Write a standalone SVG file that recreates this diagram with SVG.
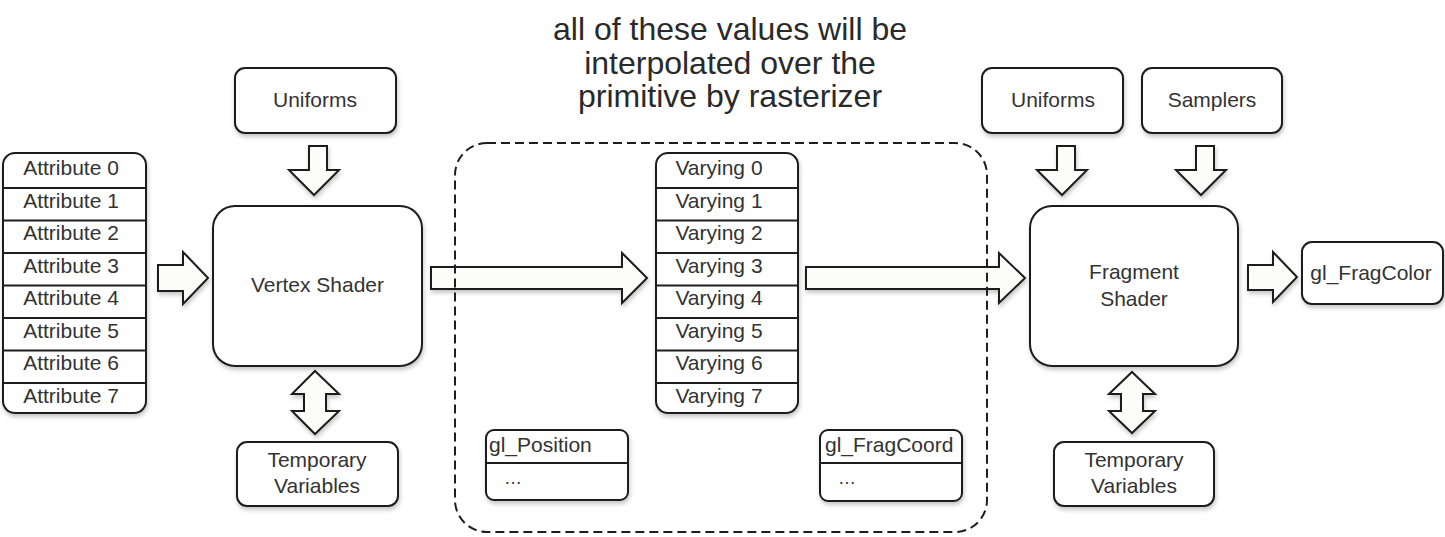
<svg xmlns="http://www.w3.org/2000/svg" width="1445" height="537" viewBox="0 0 1445 537">
<defs>
<filter id="sh" x="-10%" y="-10%" width="130%" height="140%">
<feDropShadow dx="1" dy="3" stdDeviation="2" flood-color="#000" flood-opacity="0.22"/>
</filter>
<style>
.box{fill:#fff;stroke:#1e1e1e;stroke-width:2;filter:url(#sh)}
.ln{stroke:#1e1e1e;stroke-width:2}
.arr{fill:#fcfcf8;stroke:#1e1e1e;stroke-width:2;stroke-linejoin:miter;filter:url(#sh)}
.dash{fill:none;stroke:#1e1e1e;stroke-width:2;stroke-dasharray:9 5}
text{font-family:"Liberation Sans",Arial,sans-serif;font-size:21px;fill:#333}
.c{text-anchor:middle}
.title{font-size:32px;fill:#2a2a2a;text-anchor:middle}
</style>
</defs>
<rect width="1445" height="537" fill="#fff"/>

<g id="title">
<text class="title" x="730" y="40">all of these values will be</text>
<text class="title" x="730" y="74">interpolated over the</text>
<text class="title" x="730" y="107">primitive by rasterizer</text>
</g>

<g id="connectors">
<polygon class="arr" points="158,265 183,265 183,252 208,278 183,304 183,291 158,291"/>
<polygon class="arr" points="431,267 622,267 622,253 647,278 622,303 622,289 431,289"/>
<polygon class="arr" points="806,267 999,267 999,253 1025,278 999,303 999,289 806,289"/>
<polygon class="arr" points="1248,265 1273,265 1273,252 1297,277 1273,302 1273,290 1248,290"/>
<polygon class="arr" points="309,146 327,146 327,170 339,170 314,195 289,170 309,170"/>
<polygon class="arr" points="1057,146 1075,146 1075,170 1087,170 1062,195 1037,170 1057,170"/>
<polygon class="arr" points="1196,146 1214,146 1214,170 1226,170 1201,195 1176,170 1196,170"/>
<polygon class="arr" points="315,371 339,394 326,394 326,411 339,411 315,434 292,411 304,411 304,394 292,394"/>
<polygon class="arr" points="1132,372 1155,394 1143,394 1143,411 1155,411 1132,433 1109,411 1121,411 1121,394 1109,394"/>
</g>

<g id="rasterizer-region">
<rect class="dash" x="455" y="143" width="532" height="389" rx="32"/>
</g>

<g id="attributes">
<rect class="box" x="3" y="153" width="143" height="260" rx="12"/>
<line class="ln" x1="3" y1="188" x2="146" y2="188"/>
<line class="ln" x1="3" y1="220.5" x2="146" y2="220.5"/>
<line class="ln" x1="3" y1="253" x2="146" y2="253"/>
<line class="ln" x1="3" y1="285.5" x2="146" y2="285.5"/>
<line class="ln" x1="3" y1="318" x2="146" y2="318"/>
<line class="ln" x1="3" y1="350.5" x2="146" y2="350.5"/>
<line class="ln" x1="3" y1="383" x2="146" y2="383"/>
<text class="c" x="71" y="175">Attribute 0</text>
<text class="c" x="71" y="207.5">Attribute 1</text>
<text class="c" x="71" y="240">Attribute 2</text>
<text class="c" x="71" y="272.5">Attribute 3</text>
<text class="c" x="71" y="305">Attribute 4</text>
<text class="c" x="71" y="337.5">Attribute 5</text>
<text class="c" x="71" y="370">Attribute 6</text>
<text class="c" x="71" y="402.5">Attribute 7</text>
</g>

<g id="uniforms-vs">
<rect class="box" x="235" y="68" width="161" height="65" rx="10"/>
<text class="c" x="315" y="107">Uniforms</text>
</g>

<g id="vertex-shader">
<rect class="box" x="213" y="206" width="209" height="160" rx="22"/>
<text class="c" x="317.5" y="292">Vertex Shader</text>
</g>

<g id="temp-vs">
<rect class="box" x="237" y="442" width="161" height="64" rx="10"/>
<text class="c" x="317" y="467">Temporary</text>
<text class="c" x="317" y="493">Variables</text>
</g>

<g id="varyings">
<rect class="box" x="656" y="153" width="142" height="260" rx="12"/>
<line class="ln" x1="656" y1="188" x2="798" y2="188"/>
<line class="ln" x1="656" y1="220.5" x2="798" y2="220.5"/>
<line class="ln" x1="656" y1="253" x2="798" y2="253"/>
<line class="ln" x1="656" y1="285.5" x2="798" y2="285.5"/>
<line class="ln" x1="656" y1="318" x2="798" y2="318"/>
<line class="ln" x1="656" y1="350.5" x2="798" y2="350.5"/>
<line class="ln" x1="656" y1="383" x2="798" y2="383"/>
<text class="c" x="719" y="175">Varying 0</text>
<text class="c" x="719" y="207.5">Varying 1</text>
<text class="c" x="719" y="240">Varying 2</text>
<text class="c" x="719" y="272.5">Varying 3</text>
<text class="c" x="719" y="305">Varying 4</text>
<text class="c" x="719" y="337.5">Varying 5</text>
<text class="c" x="719" y="370">Varying 6</text>
<text class="c" x="719" y="402.5">Varying 7</text>
</g>

<g id="gl-position">
<rect class="box" x="486" y="430" width="142" height="70" rx="8"/>
<line class="ln" x1="486" y1="463" x2="628" y2="463"/>
<text x="489" y="452">gl_Position</text>
<text x="504" y="484" style="font-size:18px">…</text>
</g>

<g id="gl-fragcoord">
<rect class="box" x="820" y="430" width="142" height="71" rx="8"/>
<line class="ln" x1="820" y1="463" x2="962" y2="463"/>
<text x="825" y="452">gl_FragCoord</text>
<text x="838" y="484" style="font-size:18px">…</text>
</g>

<g id="uniforms-fs">
<rect class="box" x="982" y="68" width="141" height="65" rx="10"/>
<text class="c" x="1053" y="107">Uniforms</text>
</g>

<g id="samplers">
<rect class="box" x="1142" y="68" width="140" height="65" rx="10"/>
<text class="c" x="1212" y="107">Samplers</text>
</g>

<g id="fragment-shader">
<rect class="box" x="1030" y="206" width="208" height="160" rx="22"/>
<text class="c" x="1134" y="279">Fragment</text>
<text class="c" x="1134" y="306">Shader</text>
</g>

<g id="gl-fragcolor">
<rect class="box" x="1302" y="242" width="141" height="62" rx="10"/>
<text class="c" x="1371" y="280">gl_FragColor</text>
</g>

<g id="temp-fs">
<rect class="box" x="1054" y="442" width="160" height="64" rx="10"/>
<text class="c" x="1134" y="467">Temporary</text>
<text class="c" x="1134" y="493">Variables</text>
</g>
</svg>
